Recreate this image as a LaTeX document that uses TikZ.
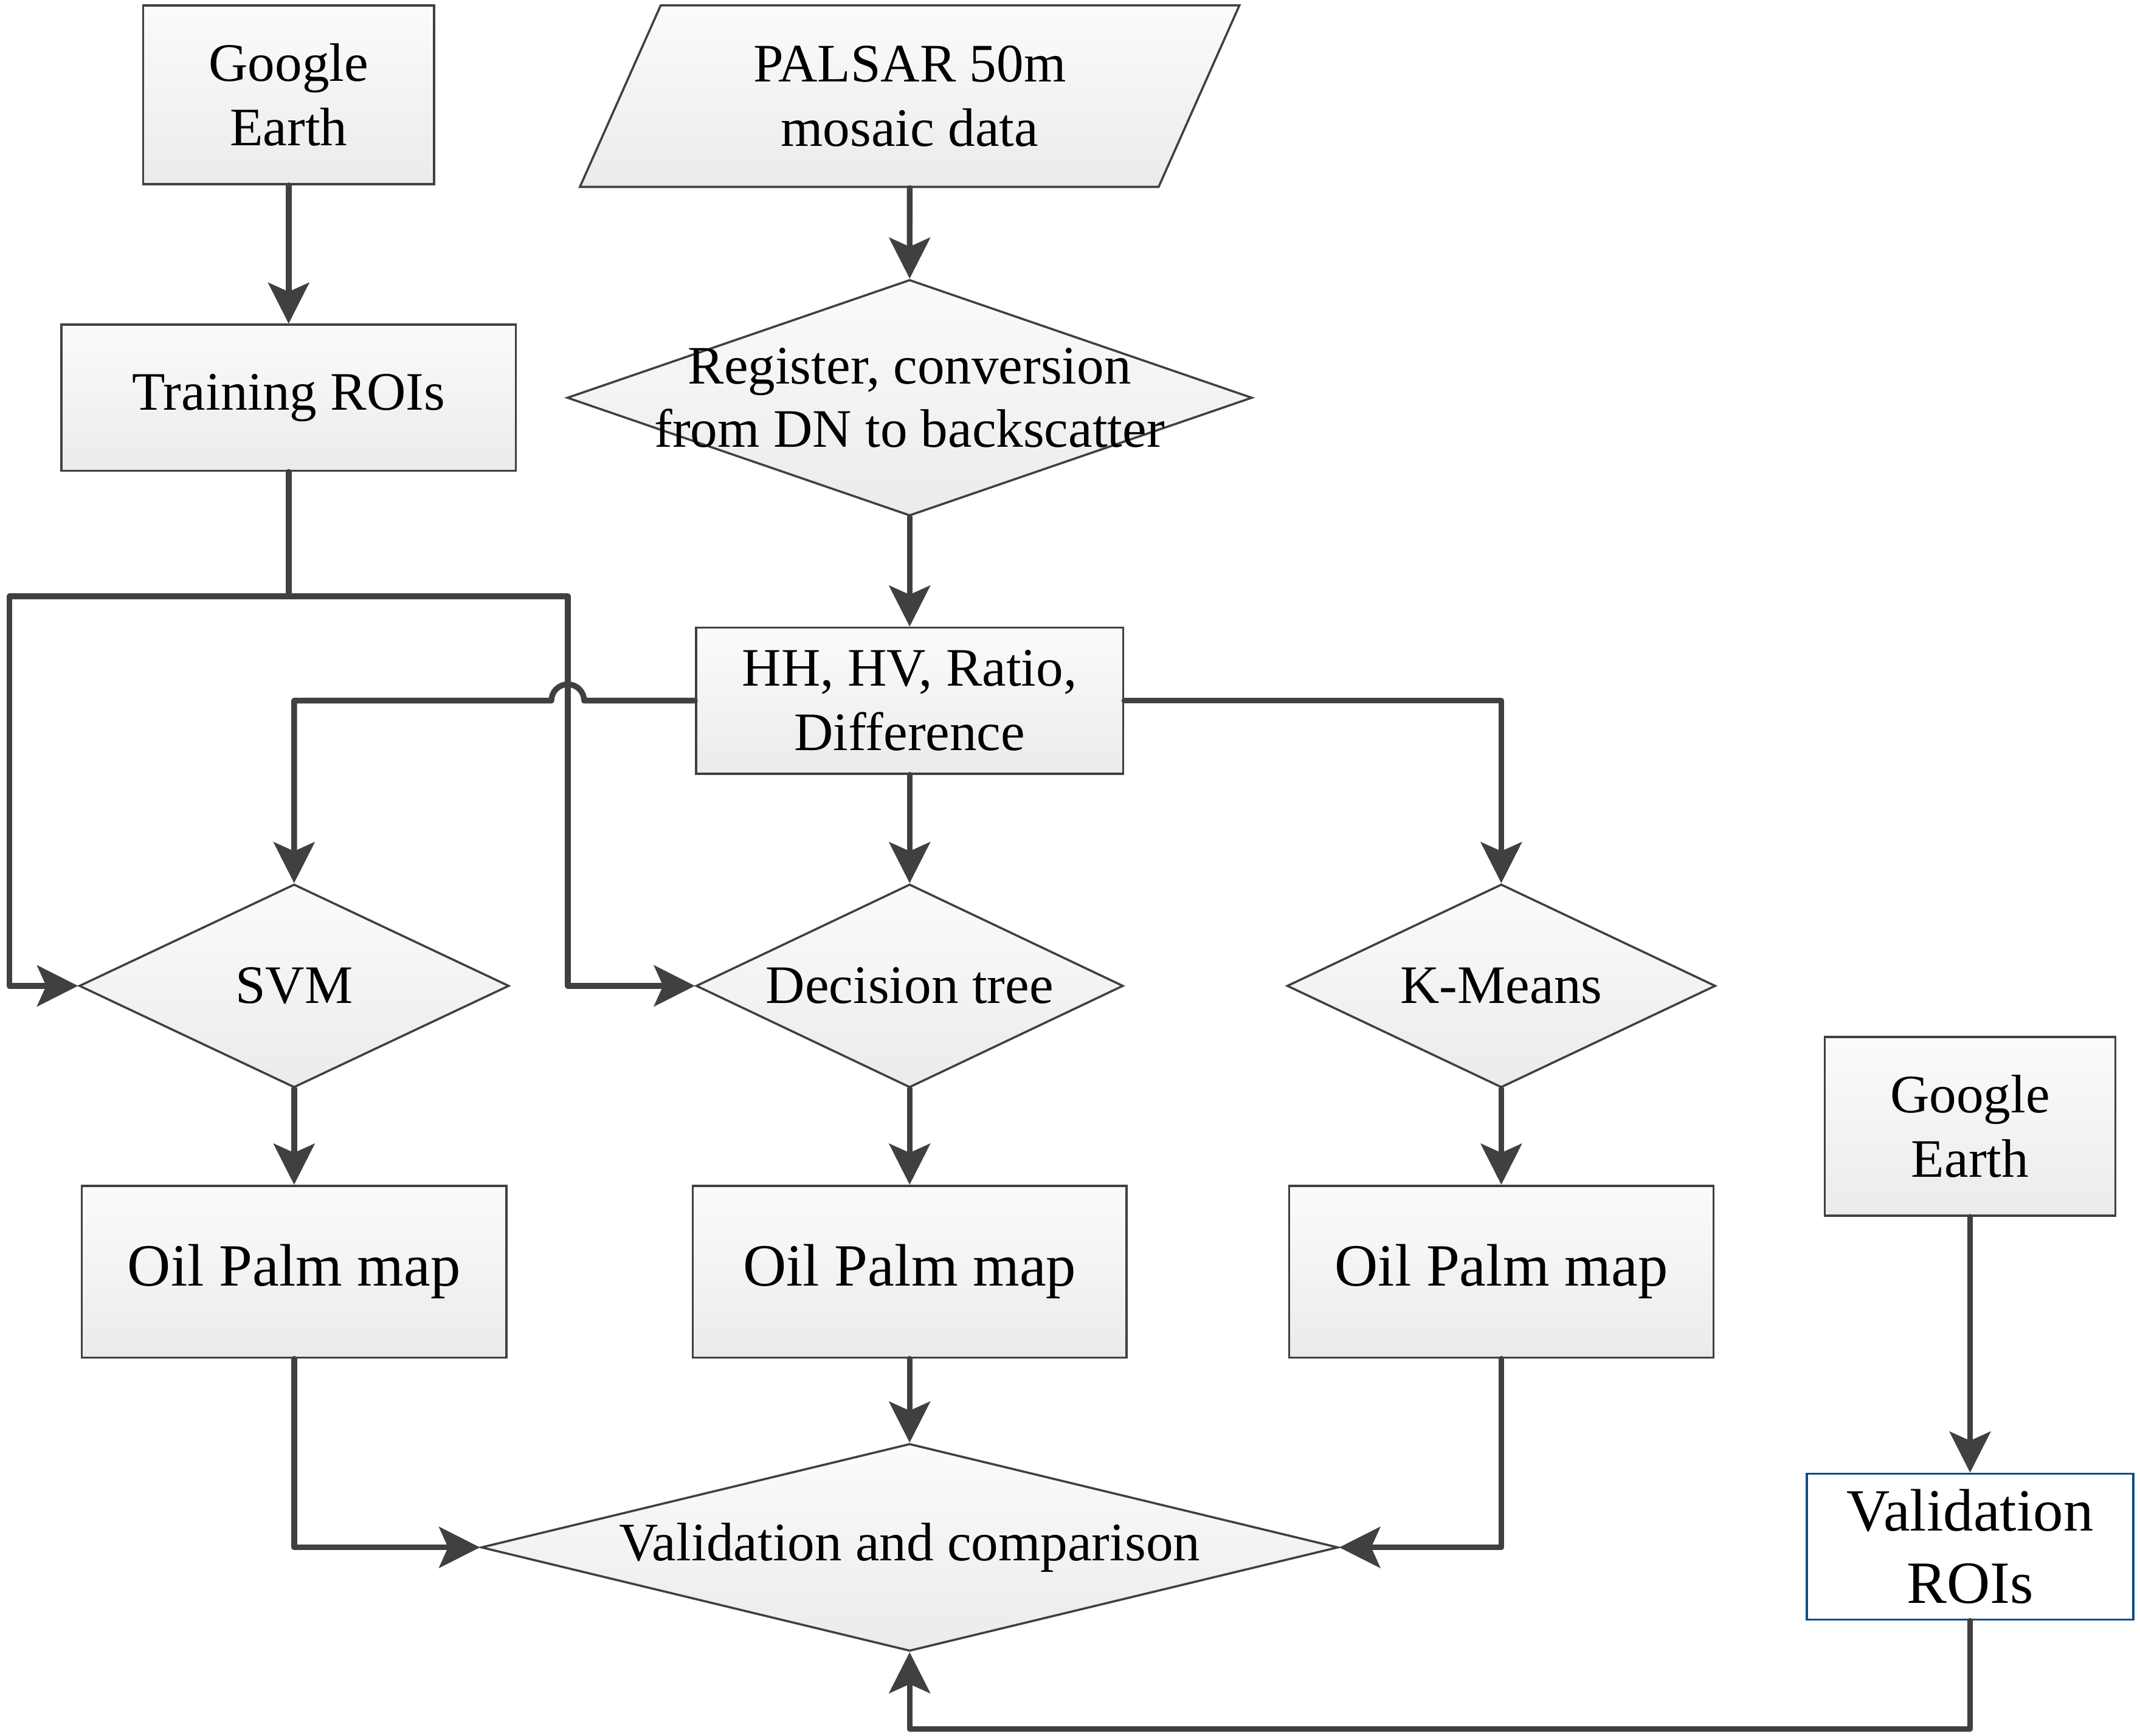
\documentclass[tikz,border=0pt]{standalone}
\usepackage{fontspec}
\setmainfont{Liberation Serif}
\usetikzlibrary{arrows.meta,shapes.geometric}
\definecolor{linegray}{RGB}{64,64,64}
\definecolor{filltop}{RGB}{251,251,251}
\definecolor{fillbot}{RGB}{235,235,235}
\definecolor{roiblue}{RGB}{16,75,135}

\begin{document}
\begin{tikzpicture}[x=0.1mm,y=-0.1mm,
  plainbox/.style={draw=linegray, line width=0.45pt, align=center, inner sep=0pt, font=\fontsize{11.3}{13.4}\selectfont},
  box/.style={plainbox, top color=filltop, bottom color=fillbot},
  bigbox/.style={box, font=\fontsize{12.5}{15}\selectfont},
  decision/.style={diamond, draw=linegray, line width=0.45pt, top color=filltop, bottom color=fillbot, inner sep=0pt},
  line/.style={draw=linegray, line width=1.2pt, line cap=round, line join=round},
  arrow/.style={line, -{Stealth[length=3mm,width=3mm,inset=0.66mm]}},
  every label/.style={align=center, inner sep=0pt, font=\fontsize{11.3}{13.2}\selectfont}]
\useasboundingbox (0,0) rectangle (1568,1271.8);

\node[box, minimum width=21.3mm, minimum height=13.1mm] (ge1) at (211.5,69.5) {Google\\Earth};
\node[box, trapezium, trapezium left angle=63.3, trapezium right angle=116.7, trapezium stretches=true,
  minimum width=48.7mm, minimum height=13.3mm] (palsar) at (666.5,70.5) {PALSAR 50m\\mosaic data};
\node[box, minimum width=33.3mm, minimum height=10.7mm] (train) at (211.5,291.5) {Training ROIs};
\node[decision, minimum width=50.2mm, minimum height=17.3mm,
  label=center:{Register, conversion\\from DN to backscatter}] (reg) at (666.5,291.5) {};
\node[box, minimum width=31.3mm, minimum height=10.7mm] (hh) at (666.5,513.5) {HH, HV, Ratio,\\Difference};

\node[decision, minimum width=31.5mm, minimum height=14.9mm, label=center:SVM] (svm) at (215.5,722.5) {};
\node[decision, minimum width=31.3mm, minimum height=14.9mm, label=center:Decision tree] (dt) at (666.5,722.5) {};
\node[decision, minimum width=31.4mm, minimum height=14.9mm, label=center:K-Means] (km) at (1100,722.5) {};

\node[bigbox, minimum width=31.1mm, minimum height=12.6mm] (map1) at (215.5,932) {Oil Palm map};
\node[bigbox, minimum width=31.8mm, minimum height=12.6mm] (map2) at (666.5,932) {Oil Palm map};
\node[bigbox, minimum width=31.1mm, minimum height=12.6mm] (map3) at (1100,932) {Oil Palm map};

\node[box, minimum width=21.3mm, minimum height=13.1mm] (ge2) at (1443.5,825.5) {Google\\Earth};
\node[plainbox, draw=roiblue, fill=white, minimum width=23.9mm, minimum height=10.7mm,
  font=\fontsize{12.5}{15.1}\selectfont] (valroi) at (1443.5,1133.5) {Validation\\ROIs};
\node[decision, minimum width=62.8mm, minimum height=15.2mm,
  label=center:Validation and comparison] (valcomp) at (666.5,1134) {};

\coordinate (busL) at (7,437);
\coordinate (busR) at (416,437);
\coordinate (back) at (666.5,1267);

\draw[arrow] (ge1) -- (train);
\draw[arrow] (palsar) -- (reg);
\draw[arrow] (reg) -- (hh);
\draw[arrow] (train.south) |- (busL) |- (svm.west);
\draw[arrow] (train.south |- busL) -- (busR) |- (dt.west);
\draw[arrow] (hh.west) -- ([xshift=1.2mm]busR |- hh.west) arc[start angle=0, end angle=180, radius=1.2mm] -| (svm.north);
\draw[arrow] (hh) -- (dt);
\draw[arrow] (hh.east) -| (km.north);
\draw[arrow] (svm) -- (map1);
\draw[arrow] (dt) -- (map2);
\draw[arrow] (km) -- (map3);
\draw[arrow] (map1.south) |- (valcomp.west);
\draw[arrow] (map2) -- (valcomp);
\draw[arrow] (map3.south) |- (valcomp.east);
\draw[arrow] (ge2) -- (valroi);
\draw[arrow] (valroi.south) |- (back) -- (valcomp.south);

\end{tikzpicture}
\end{document}
